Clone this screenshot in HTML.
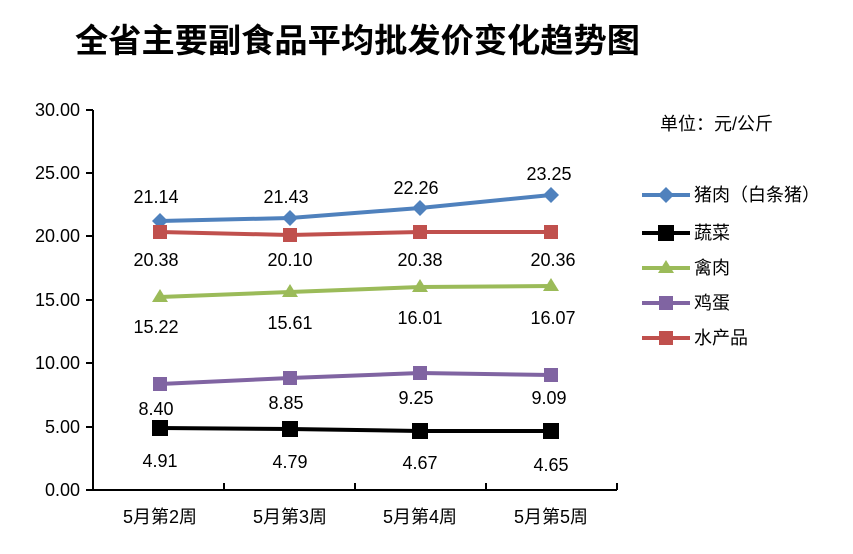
<!DOCTYPE html>
<html><head><meta charset="utf-8"><style>
body{margin:0;background:#fff;}
svg text{font-family:"Liberation Sans","Noto Sans CJK SC",sans-serif;fill:#000;}
</style></head><body>
<svg width="853" height="549" viewBox="0 0 853 549" xmlns="http://www.w3.org/2000/svg">
<text x="75" y="52" font-size="33" textLength="565" lengthAdjust="spacingAndGlyphs" style="font-family:'Noto Sans CJK SC',sans-serif;font-weight:bold">全省主要副食品平均批发价变化趋势图</text>
<g stroke="#000" stroke-width="2">
<line x1="93" y1="110" x2="93" y2="490"/>
<line x1="93" y1="490" x2="617" y2="490"/>
<line x1="86" y1="110" x2="93" y2="110"/><line x1="86" y1="173" x2="93" y2="173"/><line x1="86" y1="236" x2="93" y2="236"/><line x1="86" y1="300" x2="93" y2="300"/><line x1="86" y1="363" x2="93" y2="363"/><line x1="86" y1="427" x2="93" y2="427"/><line x1="86" y1="490" x2="93" y2="490"/>
<line x1="224" y1="483" x2="224" y2="490"/><line x1="355" y1="483" x2="355" y2="490"/><line x1="486" y1="483" x2="486" y2="490"/><line x1="617" y1="483" x2="617" y2="490"/>
</g>
<g font-size="18" text-anchor="end">
<text x="80" y="116">30.00</text><text x="80" y="179">25.00</text><text x="80" y="242">20.00</text><text x="80" y="306">15.00</text><text x="80" y="369">10.00</text><text x="80" y="433">5.00</text><text x="80" y="496">0.00</text>
</g>
<g font-size="18" text-anchor="middle">
<text x="160" y="523">5月第2周</text><text x="290" y="523">5月第3周</text><text x="420" y="523">5月第4周</text><text x="551" y="523">5月第5周</text>
</g>
<polyline points="160,221 290,218 420,208 551,195" fill="none" stroke="#4f81bd" stroke-width="4"/>
<g fill="#4f81bd"><path d="M160,213l8,8-8,8-8-8z"/><path d="M290,210l8,8-8,8-8-8z"/><path d="M420,200l8,8-8,8-8-8z"/><path d="M551,187l8,8-8,8-8-8z"/></g>
<polyline points="160,232 290,235 420,232 551,232" fill="none" stroke="#c0504d" stroke-width="4"/>
<g fill="#c0504d"><rect x="153" y="225" width="14" height="14"/><rect x="283" y="228" width="14" height="14"/><rect x="413" y="225" width="14" height="14"/><rect x="544" y="225" width="14" height="14"/></g>
<polyline points="160,297 290,292 420,287 551,286" fill="none" stroke="#9bbb59" stroke-width="4"/>
<g fill="#9bbb59"><path d="M160,289l8,13h-16z"/><path d="M290,284l8,13h-16z"/><path d="M420,279l8,13h-16z"/><path d="M551,278l8,13h-16z"/></g>
<polyline points="160,384 290,378 420,373 551,375" fill="none" stroke="#8064a2" stroke-width="4"/>
<g fill="#8064a2"><rect x="153" y="377" width="14" height="14"/><rect x="283" y="371" width="14" height="14"/><rect x="413" y="366" width="14" height="14"/><rect x="544" y="368" width="14" height="14"/></g>
<polyline points="160,428 290,429 420,431 551,431" fill="none" stroke="#000" stroke-width="4"/>
<g fill="#000"><rect x="152" y="420" width="16" height="16"/><rect x="282" y="421" width="16" height="16"/><rect x="412" y="423" width="16" height="16"/><rect x="543" y="423" width="16" height="16"/></g>
<g font-size="18" text-anchor="middle">
<text x="156" y="203">21.14</text><text x="286" y="203">21.43</text><text x="416" y="194">22.26</text><text x="549" y="180">23.25</text>
<text x="156" y="266">20.38</text><text x="290" y="266">20.10</text><text x="420" y="266">20.38</text><text x="553" y="266">20.36</text>
<text x="156" y="333">15.22</text><text x="290" y="329">15.61</text><text x="420" y="324">16.01</text><text x="553" y="324">16.07</text>
<text x="156" y="415">8.40</text><text x="286" y="409">8.85</text><text x="416" y="404">9.25</text><text x="549" y="404">9.09</text>
<text x="160" y="467">4.91</text><text x="290" y="468">4.79</text><text x="420" y="469">4.67</text><text x="551" y="471">4.65</text>
</g>
<text x="660" y="130" font-size="18">单位：元/公斤</text>
<g font-size="18">
<line x1="642" y1="195" x2="690" y2="195" stroke="#4f81bd" stroke-width="4"/><path d="M666,187l8,8-8,8-8-8z" fill="#4f81bd"/><text x="694" y="201">猪肉（白条猪）</text>
<line x1="642" y1="233" x2="690" y2="233" stroke="#000" stroke-width="4"/><rect x="658" y="225" width="16" height="16"/><text x="694" y="239">蔬菜</text>
<line x1="642" y1="268" x2="690" y2="268" stroke="#9bbb59" stroke-width="4"/><path d="M666,260l8,13h-16z" fill="#9bbb59"/><text x="694" y="274">禽肉</text>
<line x1="642" y1="303" x2="690" y2="303" stroke="#8064a2" stroke-width="4"/><rect x="659" y="296" width="14" height="14" fill="#8064a2"/><text x="694" y="309">鸡蛋</text>
<line x1="642" y1="338" x2="690" y2="338" stroke="#c0504d" stroke-width="4"/><rect x="659" y="331" width="14" height="14" fill="#c0504d"/><text x="694" y="344">水产品</text>
</g>
</svg>
</body></html>
